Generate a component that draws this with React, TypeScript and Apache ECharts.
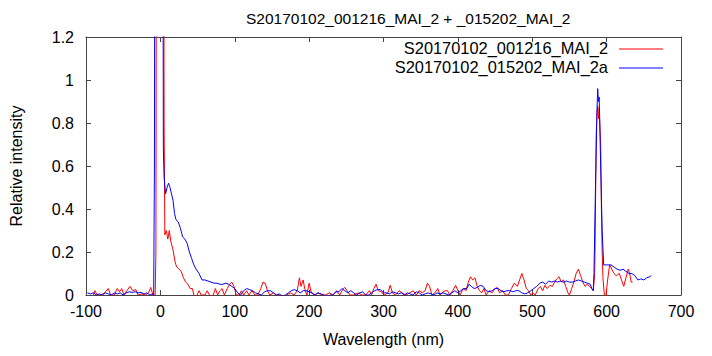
import React, { useEffect, useRef } from "react";
import * as echarts from "echarts";

const titleText = "S20170102_001216_MAI_2 + _015202_MAI_2";
const seriesNames = ["S20170102_001216_MAI_2", "S20170102_015202_MAI_2a"];
const xAxisTicks = [-100, 0, 100, 200, 300, 400, 500, 600, 700];
const yAxisTicks = [0, 0.2, 0.4, 0.6, 0.8, 1, 1.2];

const redX = [-90, -88, -85, -80, -75, -70, -67, -62, -58, -55, -52, -49, -45, -41, -37, -33, -30, -25, -20, -16, -13, -10, -7, -6, -5, -1, 1, 4, 5, 6, 8, 10, 12, 14, 17, 20, 22, 25, 28, 31, 34, 37, 40, 43, 45, 48, 52, 55, 60, 63, 66, 70, 74, 77, 80, 83, 86, 90, 93, 96, 99, 102, 106, 109, 112, 116, 119, 123, 127, 131, 135, 138, 141, 144, 147, 152, 156, 160, 165, 170, 175, 180, 184, 187, 189, 192, 194, 197, 200, 203, 207, 212, 217, 222, 227, 232, 237, 241, 245, 248, 251, 255, 260, 266, 271, 276, 281, 284, 287, 290, 293, 297, 301, 306, 309, 312, 316, 321, 325, 330, 335, 340, 344, 348, 352, 356, 359, 362, 365, 369, 373, 376, 380, 383, 386, 389, 393, 397, 400, 403, 407, 411, 414, 417, 420, 423, 426, 429, 432, 435, 438, 442, 446, 450, 453, 456, 460, 464, 468, 472, 476, 480, 483, 486, 489, 492, 495, 498, 501, 504, 508, 511, 514, 517, 520, 524, 527, 530, 533, 536, 539, 542, 545, 548, 550, 553, 556, 559, 562, 565, 568, 571, 574, 577, 580, 582, 584, 585, 586, 587, 588, 589, 590, 592, 593, 594, 595, 597, 599, 601, 604, 607, 610, 613, 617, 620, 623, 626, 629, 631, 633, 635];
const redY = [0.0, 0.02, 0.0, 0.0, 0.01, 0.03, 0.0, 0.0, 0.03, 0.015, 0.03, 0.0, 0.02, 0.04, 0.02, 0.025, 0.0, 0.005, 0.0, 0.01, 0.035, 0.0, 0.0, 0.2, 3.0, 4.0, 4.0, 3.0, 0.8, 0.28, 0.3, 0.26, 0.3, 0.25, 0.21, 0.15, 0.13, 0.12, 0.11, 0.08, 0.06, 0.05, 0.03, 0.03, 0.0, -0.01, 0.02, 0.0, 0.0, 0.02, 0.0, -0.01, 0.03, 0.0, 0.02, 0.03, 0.0, 0.03, 0.05, 0.06, 0.04, 0.0, 0.0, 0.02, 0.0, 0.02, 0.0, 0.02, 0.0, 0.0, 0.03, 0.06, 0.055, 0.02, 0.0, 0.01, 0.0, 0.0, -0.01, 0.0, 0.01, 0.0, 0.02, 0.08, 0.04, 0.07, 0.03, 0.0, 0.055, 0.01, 0.0, 0.01, 0.0, 0.0, 0.01, 0.0, 0.02, 0.0, 0.025, 0.035, 0.02, 0.0, 0.0, 0.01, 0.0, 0.0, 0.02, 0.0, 0.03, 0.05, 0.02, 0.015, 0.0, 0.01, 0.045, 0.01, 0.0, 0.02, 0.01, 0.0, 0.01, 0.02, 0.0, 0.02, 0.01, 0.02, 0.055, 0.04, 0.0, 0.01, 0.03, 0.0, 0.015, 0.02, 0.02, 0.0, 0.02, 0.045, 0.02, 0.0, 0.03, 0.02, 0.06, 0.085, 0.07, 0.08, 0.04, 0.02, 0.01, 0.03, 0.0, 0.02, 0.01, 0.03, 0.035, 0.01, 0.02, 0.0, 0.0, 0.03, 0.055, 0.04, 0.07, 0.1, 0.07, 0.03, 0.02, 0.0, 0.01, 0.0, 0.03, 0.04, 0.02, 0.045, 0.03, 0.045, 0.04, 0.06, 0.075, 0.085, 0.06, 0.07, 0.04, 0.01, 0.0, 0.03, 0.06, 0.1, 0.12, 0.09, 0.06, 0.04, 0.05, 0.04, 0.03, 0.02, 0.1, 0.4, 0.75, 0.85, 0.88, 0.82, 0.87, 0.7, 0.4, 0.2, 0.08, 0.0, -0.01, 0.06, 0.14, 0.12, 0.1, 0.09, 0.1, 0.07, 0.04, 0.08, 0.12, 0.1, 0.06, 0.06];

const blueX = [-98, -94, -90, -86, -82, -78, -74, -70, -66, -62, -58, -54, -50, -46, -42, -38, -34, -30, -26, -22, -18, -14, -11, -9, -8, -7, 0, 3, 4, 5, 7, 9, 11, 13, 15, 17, 19, 21, 24, 27, 30, 33, 36, 39, 42, 45, 48, 52, 56, 60, 64, 68, 72, 76, 80, 84, 88, 92, 96, 100, 104, 108, 112, 116, 120, 124, 128, 132, 136, 140, 144, 148, 152, 156, 160, 164, 168, 172, 176, 180, 184, 188, 192, 196, 200, 204, 208, 212, 216, 220, 224, 228, 232, 236, 240, 244, 248, 252, 256, 260, 264, 268, 272, 276, 280, 284, 288, 292, 296, 300, 304, 308, 312, 316, 320, 324, 328, 332, 336, 340, 344, 348, 352, 356, 360, 364, 368, 372, 376, 380, 384, 388, 392, 396, 400, 404, 408, 412, 415, 418, 422, 426, 430, 434, 438, 442, 446, 450, 454, 458, 462, 466, 470, 474, 478, 482, 486, 490, 494, 498, 502, 506, 510, 514, 518, 522, 526, 530, 534, 538, 542, 546, 550, 554, 558, 562, 566, 570, 574, 578, 580, 582, 583, 585, 587, 588, 589, 590, 592, 594, 596, 598, 602, 606, 610, 614, 618, 622, 626, 630, 634, 638, 642, 646, 650, 654, 658, 660];
const blueY = [0.01, 0.005, 0.01, 0.0, 0.005, 0.0, 0.01, 0.005, 0.0, 0.01, 0.005, 0.01, 0.0, 0.01, 0.015, 0.012, 0.015, 0.01, 0.012, 0.005, 0.01, 0.0, 0.005, 0.0, 0.6, 3.0, 5.0, 3.0, 0.68, 0.55, 0.47, 0.5, 0.52, 0.5, 0.47, 0.44, 0.38, 0.35, 0.34, 0.31, 0.27, 0.26, 0.24, 0.2, 0.17, 0.14, 0.12, 0.1, 0.07, 0.07, 0.065, 0.06, 0.055, 0.055, 0.05, 0.05, 0.055, 0.05, 0.04, 0.03, 0.01, 0.0, 0.02, 0.03, 0.025, 0.02, 0.01, 0.005, 0.0, 0.015, 0.02, 0.02, 0.01, 0.0, 0.005, -0.005, 0.0, 0.01, 0.02, 0.025, 0.02, 0.01, 0.02, 0.02, 0.015, 0.01, 0.0, 0.01, 0.005, 0.0, -0.01, 0.0, 0.0, 0.015, 0.015, 0.03, 0.02, 0.01, 0.02, 0.01, 0.0, 0.01, 0.015, 0.0, 0.0, 0.01, 0.02, 0.025, 0.025, 0.01, 0.01, 0.005, 0.015, 0.01, 0.005, 0.01, 0.0, 0.01, 0.005, 0.0, 0.015, 0.01, 0.0, 0.005, 0.01, 0.005, 0.0, 0.01, 0.005, 0.01, 0.005, 0.0, 0.01, 0.02, 0.01, 0.02, 0.03, 0.03, 0.05, 0.04, 0.03, 0.035, 0.045, 0.04, 0.02, 0.015, 0.02, 0.03, 0.03, 0.02, 0.015, 0.02, 0.02, 0.015, 0.02, 0.02, 0.01, 0.005, 0.01, 0.02, 0.03, 0.04, 0.055, 0.06, 0.05, 0.065, 0.06, 0.065, 0.06, 0.065, 0.06, 0.065, 0.06, 0.06, 0.065, 0.07, 0.065, 0.06, 0.055, 0.05, 0.03, 0.02, 0.1, 0.5, 0.85, 0.96, 0.9, 0.92, 0.6, 0.3, 0.14, 0.14, 0.14, 0.14, 0.13, 0.12, 0.115, 0.12, 0.11, 0.1, 0.1, 0.09, 0.07, 0.075, 0.07, 0.08, 0.085, 0.09];

const seriesColors = ["#ff0000", "#0000ff"];

const FONT = "Liberation Sans";

export default function App() {
  const ref = useRef<HTMLDivElement>(null);
  useEffect(() => {
    if (!ref.current) return;
    const chart = echarts.init(ref.current, undefined, { renderer: "svg" });
    const zip = (xs: number[], ys: number[]) => xs.map((x, i) => [x, ys[i]]);
    const axisLineStyle = { color: "#444", width: 1 };
    const xCommon = {
      type: "value" as const,
      min: xAxisTicks[0],
      max: xAxisTicks[xAxisTicks.length - 1],
      interval: 100,
      splitLine: { show: false },
      axisLine: { show: true, onZero: false, lineStyle: axisLineStyle },
      axisTick: { show: true, inside: true, length: 5, lineStyle: axisLineStyle },
    };
    const yCommon = {
      type: "value" as const,
      min: yAxisTicks[0],
      max: yAxisTicks[yAxisTicks.length - 1],
      interval: 0.2,
      splitLine: { show: false },
      axisLine: { show: true, onZero: false, lineStyle: axisLineStyle },
      axisTick: { show: true, inside: true, length: 5, lineStyle: axisLineStyle },
    };
    const labelStyle = { color: "#000", fontFamily: FONT, fontSize: 16 };
    chart.setOption({
      animation: false,
      backgroundColor: "#fff",
      title: {
        text: titleText,
        left: 241,
        top: 5,
        textStyle: { color: "#000", fontFamily: FONT, fontSize: 15.5, fontWeight: "normal" },
      },
      grid: { left: 82, right: 31, top: 37, bottom: 61, containLabel: false },
      xAxis: [
        {
          ...xCommon,
          position: "bottom",
          name: "Wavelength (nm)",
          nameLocation: "middle",
          nameGap: 36,
          nameTextStyle: labelStyle,
          axisLabel: { ...labelStyle, margin: 8 },
        },
        { ...xCommon, position: "top", axisLabel: { show: false } },
      ],
      yAxis: [
        {
          ...yCommon,
          position: "left",
          name: "Relative intensity",
          nameLocation: "middle",
          nameGap: 62,
          nameTextStyle: labelStyle,
          axisLabel: { ...labelStyle, margin: 12 },
        },
        { ...yCommon, position: "right", axisLabel: { show: false } },
      ],
      series: [
        {
          name: seriesNames[0],
          type: "line",
          data: zip(redX, redY),
          showSymbol: false,
          symbol: "none",
          clip: true,
          lineStyle: { color: seriesColors[0], width: 1 },
          itemStyle: { color: seriesColors[0] },
        },
        {
          name: seriesNames[1],
          type: "line",
          data: zip(blueX, blueY),
          showSymbol: false,
          symbol: "none",
          clip: true,
          lineStyle: { color: seriesColors[1], width: 1 },
          itemStyle: { color: seriesColors[1] },
        },
      ],
      graphic: seriesNames.flatMap((name, i) => [
        {
          type: "text",
          right: 712 - 608,
          top: 40 + i * 19,
          style: { text: name, fill: "#000", font: `16.4px '${FONT}'`, textAlign: "right" },
        },
        {
          type: "line",
          shape: { x1: 619, y1: 49 + i * 19, x2: 663, y2: 49 + i * 19 },
          style: { stroke: seriesColors[i], lineWidth: 1 },
        },
      ]),
    });
    return () => chart.dispose();
  }, []);
  return <div ref={ref} style={{ width: 712, height: 356, position: "absolute", left: 0, top: 0 }} />;
}
